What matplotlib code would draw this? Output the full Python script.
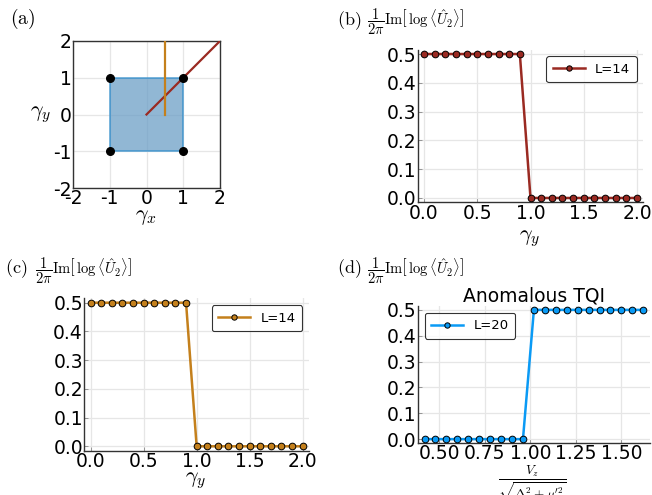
import matplotlib
matplotlib.use("Agg")
import matplotlib.pyplot as plt
import numpy as np

plt.rcParams['mathtext.fontset'] = 'cm'
plt.rcParams['font.family'] = ['DejaVu Sans']

W, H = 652, 495
DPI = 100

# ---------------- data ----------------
# panel (a)
square_corners_x = [-1, 1, 1, -1]
square_corners_y = [-1, -1, 1, 1]
diag_x = [0, 2]
diag_y = [0, 2]
vert_x = [0.5, 0.5]
vert_y = [0, 2]
a_ticks = [-2, -1, 0, 1, 2]
a_ticklabels = ["-2", "-1", "0", "1", "2"]

# panels (b), (c)
gamma = [0.0, 0.1, 0.2, 0.3, 0.4, 0.5, 0.6, 0.7, 0.8, 0.9, 1.0,
         1.1, 1.2, 1.3, 1.4, 1.5, 1.6, 1.7, 1.8, 1.9, 2.0]
pol_b = [0.5, 0.5, 0.5, 0.5, 0.5, 0.5, 0.5, 0.5, 0.5, 0.5, 0.0,
         0.0, 0.0, 0.0, 0.0, 0.0, 0.0, 0.0, 0.0, 0.0, 0.0]
pol_c = [0.5, 0.5, 0.5, 0.5, 0.5, 0.5, 0.5, 0.5, 0.5, 0.5, 0.0,
         0.0, 0.0, 0.0, 0.0, 0.0, 0.0, 0.0, 0.0, 0.0, 0.0]
bc_xticks = [0.0, 0.5, 1.0, 1.5, 2.0]
bc_xticklabels = ["0.0", "0.5", "1.0", "1.5", "2.0"]
yticks = [0.0, 0.1, 0.2, 0.3, 0.4, 0.5]
yticklabels = ["0.0", "0.1", "0.2", "0.3", "0.4", "0.5"]

# panel (d)
vz = [0.42, 0.48, 0.54, 0.60, 0.66, 0.72, 0.78, 0.84, 0.90, 0.96,
      1.02, 1.08, 1.14, 1.20, 1.26, 1.32, 1.38, 1.44, 1.50, 1.56, 1.62]
pol_d = [0.0, 0.0, 0.0, 0.0, 0.0, 0.0, 0.0, 0.0, 0.0, 0.0,
         0.5, 0.5, 0.5, 0.5, 0.5, 0.5, 0.5, 0.5, 0.5, 0.5, 0.5]
d_xticks = [0.50, 0.75, 1.00, 1.25, 1.50]
d_xticklabels = ["0.50", "0.75", "1.00", "1.25", "1.50"]

col_b = '#9a2a22'
col_c = '#c4801c'
col_d = '#0a9af5'
col_sq = '#2e8ccb'

TICK = 13.5

fig = plt.figure(figsize=(W / DPI, H / DPI), dpi=DPI)


def add_ax(x0, y0, x1, y1):
    return fig.add_axes([x0 / W, 1 - y1 / H, (x1 - x0) / W, (y1 - y0) / H])


def style_ax(ax, box=False):
    ax.grid(True, color='#e6e6e6', linewidth=0.9)
    ax.set_axisbelow(True)
    for s in ['top', 'right']:
        ax.spines[s].set_visible(box)
    for s in ax.spines.values():
        s.set_color('#333333')
        s.set_linewidth(1.0)
    ax.tick_params(direction='in', length=3, width=0.6, color='#888888',
                   labelsize=TICK, pad=1.0)


# ---------------- (a) ----------------
axa = add_ax(73, 41, 220, 188)
style_ax(axa, box=True)
axa.fill(square_corners_x, square_corners_y, facecolor='#6c9fc6', alpha=0.75,
         edgecolor=col_sq, linewidth=1.2, zorder=2)
axa.plot(diag_x, diag_y, color=col_b, linewidth=1.6, zorder=3)
axa.plot(vert_x, vert_y, color=col_c, linewidth=1.6, zorder=3)
axa.scatter(square_corners_x, square_corners_y, s=30, color='black', zorder=4)
axa.set_xlim(-2, 2)
axa.set_ylim(-2, 2)
axa.set_xticks(a_ticks)
axa.set_xticklabels(a_ticklabels)
axa.set_yticks(a_ticks)
axa.set_yticklabels(a_ticklabels)
axa.tick_params(length=0, pad=1.0)

fig.text(10 / W, 1 - 19 / H, r'$(\mathrm{a})$', fontsize=14, va='center', ha='left')
fig.text(41 / W, 1 - 115 / H, r'$\gamma_y$', fontsize=16, va='center', ha='center')
fig.text(146 / W, 1 - 217 / H, r'$\gamma_x$', fontsize=16, va='center', ha='center')

ylabel_txt = r'$\dfrac{1}{2\pi}\mathrm{Im}\left[\,\log\langle\hat{U}_2\rangle\right]$'


def step_panel(ax, x, y, col, label, xticks, xticklabels, xlim, legloc):
    style_ax(ax)
    ax.plot(x, y, color=col, linewidth=1.8, marker='o', markersize=4.8,
            markerfacecolor=col, markeredgecolor='black', markeredgewidth=0.7,
            label=label, zorder=3)
    ax.set_xlim(*xlim)
    ax.set_ylim(-0.015, 0.515)
    ax.set_xticks(xticks)
    ax.set_xticklabels(xticklabels)
    ax.set_yticks(yticks)
    ax.set_yticklabels(yticklabels)
    leg = ax.legend(loc=legloc, fontsize=9.5, frameon=True, fancybox=True,
                    handlelength=2.4, borderpad=0.5, markerscale=0.8)
    leg.get_frame().set_edgecolor('black')
    leg.get_frame().set_linewidth(0.8)
    return leg


# ---------------- (b) ----------------
axb = add_ax(417.6, 49.7, 643.4, 202.3)
step_panel(axb, gamma, pol_b, col_b, 'L=14', bc_xticks, bc_xticklabels,
           (-0.06, 2.06), 'upper right')
fig.text(337 / W, 1 - 21 / H, r'$(\mathrm{b})$', fontsize=13, va='center', ha='left')
fig.text(367 / W, 1 - 22 / H, ylabel_txt, fontsize=10.5, va='center', ha='left')
fig.text(530 / W, 1 - 239 / H, r'$\gamma_y$', fontsize=16, va='center', ha='center')

# ---------------- (c) ----------------
axc = add_ax(84.3, 298.4, 309.0, 450.6)
step_panel(axc, gamma, pol_c, col_c, 'L=14', bc_xticks, bc_xticklabels,
           (-0.06, 2.06), 'upper right')
fig.text(5 / W, 1 - 269 / H, r'$(\mathrm{c})$', fontsize=13, va='center', ha='left')
fig.text(35 / W, 1 - 271 / H, ylabel_txt, fontsize=10.5, va='center', ha='left')
fig.text(196 / W, 1 - 481 / H, r'$\gamma_y$', fontsize=16, va='center', ha='center')

# ---------------- (d) ----------------
axd = add_ax(418, 306, 649.8, 443)
step_panel(axd, vz, pol_d, col_d, 'L=20', d_xticks, d_xticklabels,
           (0.384, 1.656), 'upper left')
axd.set_title('Anomalous TQI', fontsize=13.5, pad=2)
fig.text(337 / W, 1 - 269 / H, r'$(\mathrm{d})$', fontsize=13, va='center', ha='left')
fig.text(367 / W, 1 - 271 / H, ylabel_txt, fontsize=10.5, va='center', ha='left')
fig.text(532 / W, 1 - 484 / H, r'$\frac{V_z}{\sqrt{\Delta^2+\mu^{\prime 2}}}$',
         fontsize=13.5, va='center', ha='center')

fig.savefig('out.png', dpi=DPI)
